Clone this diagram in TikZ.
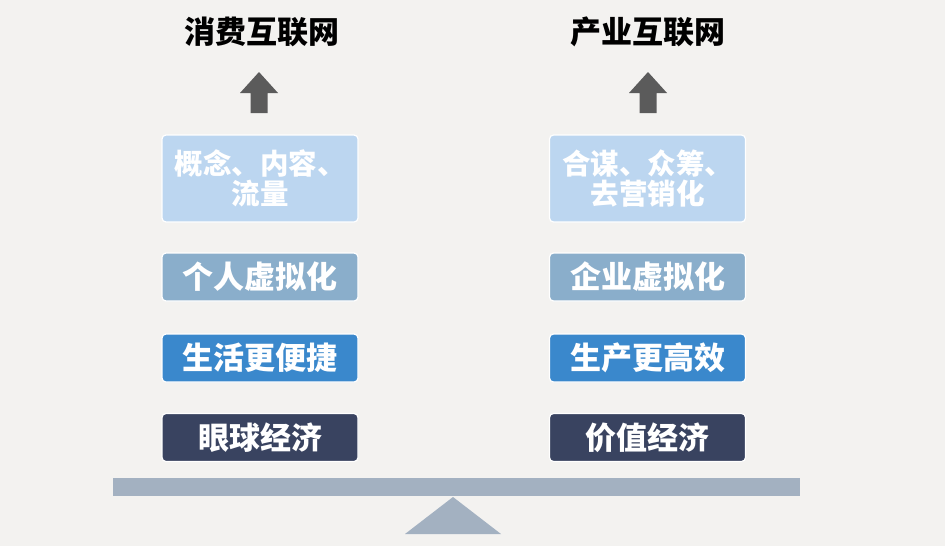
\documentclass[tikz,border=0pt]{standalone}
\usepackage{fontspec}
\newfontfamily\cjk{Noto Sans CJK SC}
\usepackage{tikz}

\definecolor{bgcol}{HTML}{F3F2F0}
\definecolor{pale}{HTML}{BCD6F0}
\definecolor{grayblue}{HTML}{8AAECB}
\definecolor{midblue}{HTML}{3A88CC}
\definecolor{navy}{HTML}{394360}
\definecolor{beam}{HTML}{A3B1C1}
\definecolor{arrowcol}{HTML}{5B5B5B}

\begin{document}
\begin{tikzpicture}[x=1pt, y=-1pt,
  title/.style = {font=\cjk\bfseries\fontsize{31}{31}\selectfont, text=black},
  box/.style = {draw=white, line width=1.2pt, rounded corners=4pt, minimum width=196pt, minimum height=48pt, inner sep=0pt, text=white, font=\cjk\bfseries\fontsize{31}{31}\selectfont},
  bigbox/.style = {box, fill=pale, minimum height=87pt, align=center, font=\cjk\bfseries\fontsize{28.5}{30}\selectfont}]

\useasboundingbox[fill=bgcol] (0,0) rectangle (945,546);

%% titles
\node[title] (lt) at (262, 32) {消费互联网};
\node[title] (rt) at (648, 32) {产业互联网};

%% up arrows
\fill[arrowcol] (250.5,113) -- (250.5,93) -- (240,93) -- (259,72) -- (278,93) -- (267.5,93) -- (267.5,113) -- cycle;
\fill[arrowcol] (639.5,113) -- (639.5,93) -- (629,93) -- (648,72) -- (667,93) -- (656.5,93) -- (656.5,113) -- cycle;

%% left column
\node[bigbox] (l1) at (260, 178.5) {概念、内容、\\流量};
\node[box, fill=grayblue] (l2) at (260, 277) {个人虚拟化};
\node[box, fill=midblue] (l3) at (260, 358) {生活更便捷};
\node[box, fill=navy] (l4) at (260, 437.5) {眼球经济};

%% right column
\node[bigbox] (r1) at (647.5, 178.5) {合谋、众筹、\\去营销化};
\node[box, fill=grayblue] (r2) at (647.5, 277) {企业虚拟化};
\node[box, fill=midblue] (r3) at (647.5, 358) {生产更高效};
\node[box, fill=navy] (r4) at (647.5, 437.5) {价值经济};

%% balance
\fill[beam] (113,478) rectangle (800,496);
\fill[beam] (453,497) -- (501,534) -- (405,534) -- cycle;

\end{tikzpicture}
\end{document}
